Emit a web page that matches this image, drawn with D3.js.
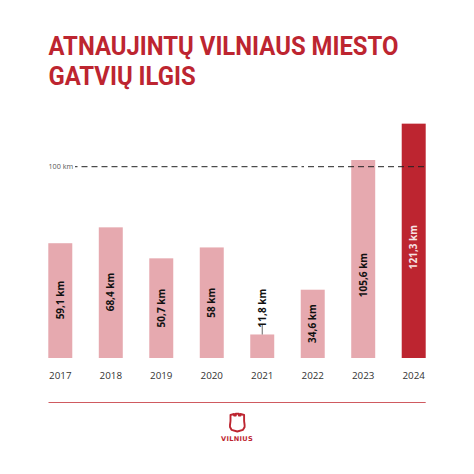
<!DOCTYPE html>
<html><head><meta charset="utf-8">
<script src="https://cdnjs.cloudflare.com/ajax/libs/d3/7.8.5/d3.min.js"></script>
<style>html,body{margin:0;background:#fff}svg{display:block}</style></head>
<body><svg id="c" width="474" height="474"></svg>
<script>
const years = ["2017","2018","2019","2020","2021","2022","2023","2024"];
// Bar lengths (the source graphic is not exactly to scale)
const barValues = [60.0,68.3,52.1,57.8,12.3,35.7,103.5,122.5];
const valueLabels = ["59,1 km","68,4 km","50,7 km","58 km","11,8 km","34,6 km","105,6 km","121,3 km"];
const titleLines = ["ATNAUJINTŲ VILNIAUS MIESTO","GATVIŲ ILGIS"];
const refValue = 100, refLabel = "100 km";
const brand = "VILNIUS";
const RED="#bd2530", PINK="#e6a9af";

const svg=d3.select("#c");
const x=d3.scaleBand().domain(years).range([48.3,425.7]).paddingInner(0.525).paddingOuter(0);
const y=d3.scaleLinear().domain([0,100]).range([358,166.7]);

svg.selectAll("text.t").data(titleLines).join("text").attr("class","t")
  .attr("transform",(d,i)=>`translate(48.5,${[55,85.2][i]}) scale(.955,1)`)
  .attr("font-family","Roboto").attr("font-weight",700).attr("font-size",25).attr("fill",RED)
  .text(d=>d);

svg.selectAll("rect.b").data(years).join("rect").attr("class","b")
  .attr("x",d=>x(d)).attr("width",x.bandwidth())
  .attr("y",(d,i)=>y(barValues[i])).attr("height",(d,i)=>y(0)-y(barValues[i]))
  .attr("fill",(d,i)=>i===7?RED:PINK);

svg.append("line").attr("x1",75).attr("x2",425.7).attr("y1",y(refValue)).attr("y2",y(refValue))
  .attr("stroke","#222").attr("stroke-width",1).attr("stroke-dasharray","2.5 4 6 4 6 4 6 4 6 4 6 4 6 4 6 4 6 4 6 4 6 4 6 4 6 4 6 4 6 4 6 4 6 4 6 4 6 4 6 4 6 4 6 4 6 4");
svg.append("text").attr("x",48.5).attr("y",y(refValue)+2.6)
  .attr("font-family","Open Sans").attr("font-size",7.2).attr("fill","#555").text(refLabel);

const xAxis=svg.append("g").attr("transform","translate(0,375)")
  .call(d3.axisBottom(x).tickSize(0).tickPadding(0));
xAxis.select(".domain").remove();
xAxis.selectAll("text").attr("font-family","Open Sans").attr("font-size",9.8).attr("fill","#333").attr("dy",0).attr("y",3.5);

// label centres, as value-axis positions along each bar
const labelAt=[30.3,34.5,26.1,28.9,26.1,18,43.4,58];
svg.selectAll("text.v").data(years).join("text").attr("class","v")
  .attr("transform",(d,i)=>`translate(${x(d)+x.bandwidth()/2+3.5},${y(labelAt[i])}) rotate(-90)`)
  .attr("text-anchor","middle")
  .attr("font-family","Open Sans").attr("font-weight",700).attr("font-size",10)
  .attr("fill",(d,i)=>i===7?"#f7e3e4":"#111").text((d,i)=>valueLabels[i]);
// leader for the small bar
const cx=x("2021")+x.bandwidth()/2;
svg.append("line").attr("x1",cx).attr("x2",cx).attr("y1",y(barValues[4])).attr("y2",y(barValues[4])-9.5)
  .attr("stroke","#222").attr("stroke-width",.7);

svg.append("line").attr("x1",48.5).attr("x2",425.7).attr("y1",402.5).attr("y2",402.5)
  .attr("stroke","#cf5a60").attr("stroke-width",1);
svg.append("path").attr("d","M230.5 415V420.5C230.5 423 229.6 425 230 427L231.5 429.8L237.3 431.5L243 429.8L244.6 427C245 425 244.1 423 244.1 420.5V415L240.5 414V415.6H238.8V413.8H235.8V415.6H234.1V414Z")
  .attr("fill","none").attr("stroke",RED).attr("stroke-width",1.9).attr("stroke-linejoin","round");
svg.append("text").attr("x",237).attr("y",440.8).attr("text-anchor","middle")
  .attr("font-family","DejaVu Sans").attr("font-weight",700).attr("font-size",6.6).attr("letter-spacing",.3).attr("fill",RED).text(brand);
</script></body></html>
